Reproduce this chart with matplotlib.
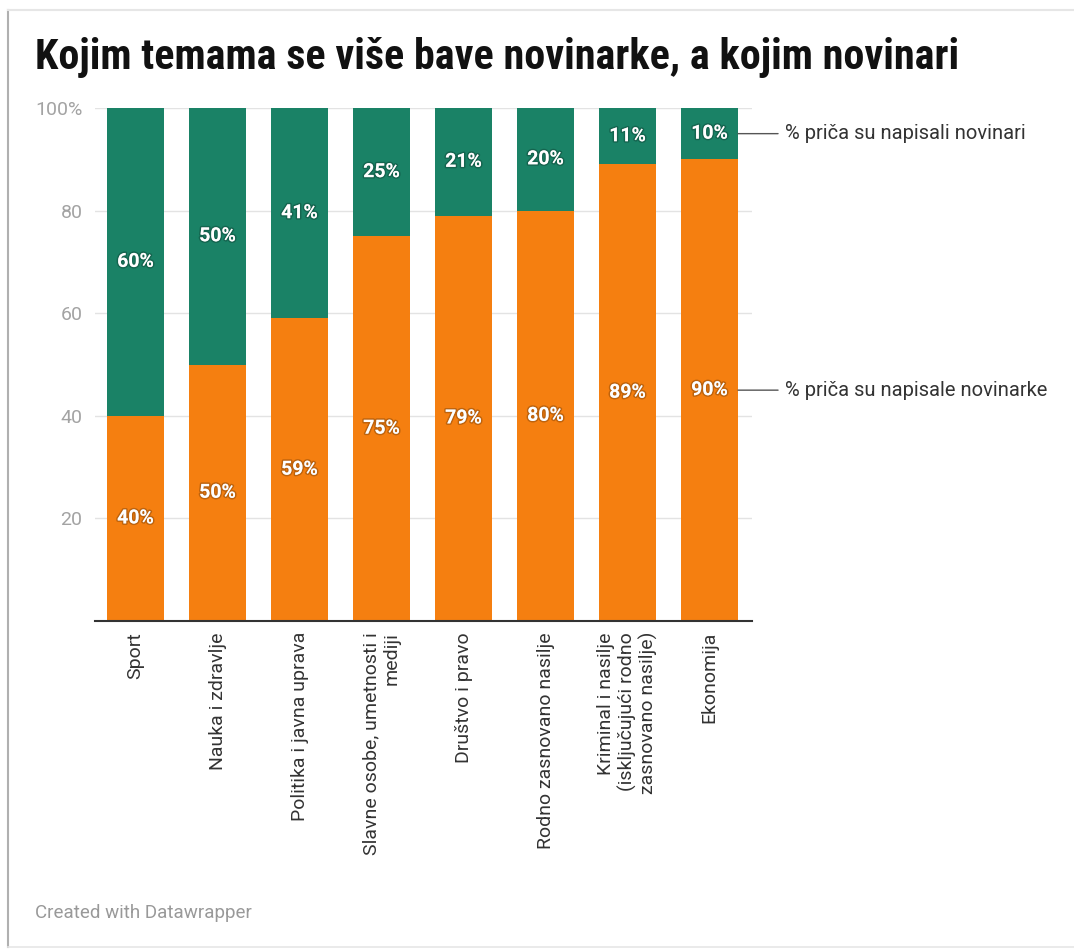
import matplotlib
matplotlib.use("Agg")
import matplotlib.pyplot as plt
import matplotlib.patheffects as pe
from matplotlib.lines import Line2D
from matplotlib import font_manager as fm

categories = ["Sport", "Nauka i zdravlje", "Politika i javna uprava",
              "Slavne osobe, umetnosti i\nmediji", "Društvo i pravo",
              "Rodno zasnovano nasilje",
              "Kriminal i nasilje\n(isključujući rodno\nzasnovano nasilje)",
              "Ekonomija"]
novinarke = [40, 50, 59, 75, 79, 80, 89, 90]
novinari = [60, 50, 41, 25, 21, 20, 11, 10]
ytick_vals = [20, 40, 60, 80, 100]
ytick_labels = ["20", "40", "60", "80", "100%"]
series_names = ["% priča su napisale novinarke", "% priča su napisali novinari"]

ORANGE = "#f57f10"
GREEN = "#1a8266"

names = {f.name for f in fm.fontManager.ttflist}
base = "Roboto" if "Roboto" in names else "DejaVu Sans"
plt.rcParams["font.family"] = [base, "DejaVu Sans"]
title_font = "Roboto Condensed" if "Roboto Condensed" in names else base

W, H = 1074, 949
fig = plt.figure(figsize=(W / 100, H / 100), dpi=100)
fig.patch.set_facecolor("white")

def fx(px):
    return px / W

def fy(py):
    return 1 - py / H

ax = fig.add_axes([fx(95), fy(621), fx(752) - fx(95), fy(108) - fy(621)])
x = list(range(len(categories)))
bw = 57 / 82
ax.bar(x, novinarke, width=bw, color=ORANGE, zorder=2)
ax.bar(x, novinari, width=bw, bottom=novinarke, color=GREEN, zorder=2)
ax.set_xlim(-0.494, 7.518)
ax.set_ylim(0, 100)

shadow = [pe.withStroke(linewidth=2.2, foreground=(0, 0, 0, 0.22))]
for i in x:
    ax.text(i, novinarke[i] / 2, "%d%%" % novinarke[i], ha="center", va="center",
            color="white", fontsize=14, fontweight="bold", path_effects=shadow, zorder=3)
    ax.text(i, novinarke[i] + novinari[i] / 2, "%d%%" % novinari[i], ha="center",
            va="center", color="white", fontsize=14, fontweight="bold",
            path_effects=shadow, zorder=3)

for v in ytick_vals:
    ax.axhline(v, color="#e3e3e3", lw=1, zorder=1)
ax.set_yticks(ytick_vals)
ax.set_yticklabels(ytick_labels, color="#a3a3a3", fontsize=14)
ax.tick_params(axis="y", length=0, pad=9)
ax.set_xticks(x)
ax.set_xticklabels(categories, rotation=90, ha="center", va="top",
                   multialignment="right", fontsize=14, color="#333333",
                   linespacing=1.15)
ax.tick_params(axis="x", length=0, pad=8)
for s in ["top", "right", "left"]:
    ax.spines[s].set_visible(False)
ax.spines["bottom"].set_color("#333333")
ax.spines["bottom"].set_linewidth(1.5)
ax.spines["bottom"].set_zorder(4)

# direct labels for series on the last bar
last = len(categories) - 1
for yv, name in [(novinarke[last] + novinari[last] / 2, series_names[1]),
                 (novinarke[last] / 2, series_names[0])]:
    ypix = ax.transData.transform((0, yv))[1]
    ax.annotate(name, xy=(last + bw / 2, yv), xycoords="data",
                xytext=(785, ypix), textcoords="figure pixels",
                va="center", ha="left", fontsize=14.5, color="#333333",
                annotation_clip=False,
                arrowprops=dict(arrowstyle="-", color="#555555", lw=1,
                                shrinkA=3, shrinkB=0))

fig.text(fx(35), fy(58), "Kojim temama se više bave novinarke, a kojim novinari",
         ha="left", va="center", fontsize=30.3, fontweight="bold",
         color="#111111", family=[title_font, "DejaVu Sans"])
fig.text(fx(35), fy(913), "Created with Datawrapper", ha="left", va="center",
         fontsize=13.5, color="#999999")

fig.add_artist(Line2D([fx(8), fx(8)], [fy(10), fy(947)], color="#b0b0b0", lw=1.5))
fig.add_artist(Line2D([fx(8), 1], [fy(10), fy(10)], color="#e6e6e6", lw=1.5))
fig.add_artist(Line2D([fx(8), 1], [fy(947), fy(947)], color="#e6e6e6", lw=1.2))

fig.savefig("out.png", dpi=100, facecolor="white")
